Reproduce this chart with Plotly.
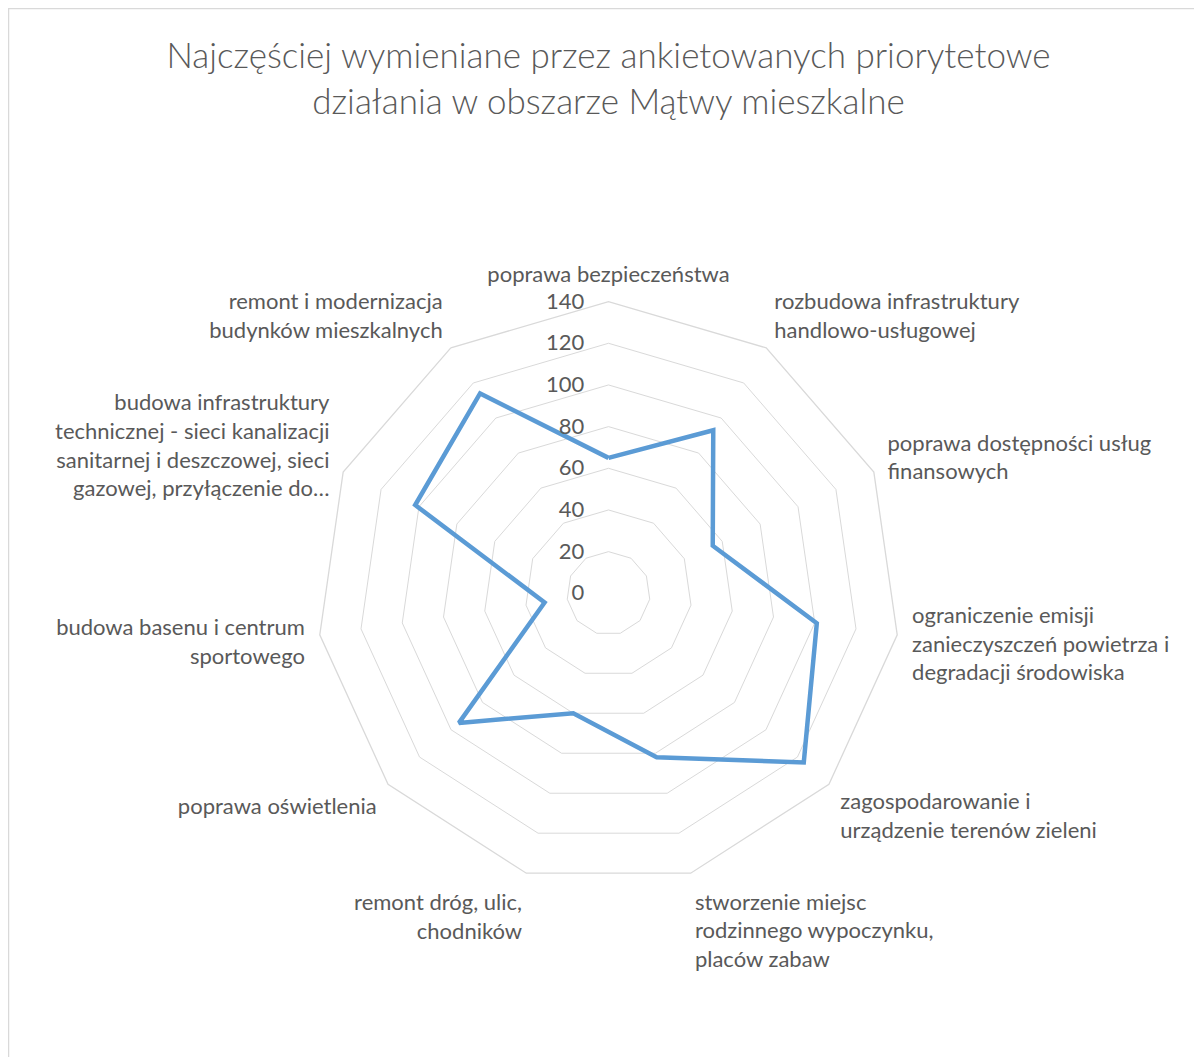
import plotly.graph_objects as go

title_text = "Najczęściej wymieniane przez ankietowanych priorytetowe<br>działania w obszarze Mątwy mieszkalne"

categories = [
    "poprawa bezpieczeństwa",
    "rozbudowa infrastruktury<br>handlowo-usługowej",
    "poprawa dostępności usług<br>finansowych",
    "ograniczenie emisji<br>zanieczyszczeń powietrza i<br>degradacji środowiska",
    "zagospodarowanie i<br>urządzenie terenów zieleni",
    "stworzenie miejsc<br>rodzinnego wypoczynku,<br>placów zabaw",
    "remont dróg, ulic,<br>chodników",
    "poprawa oświetlenia",
    "budowa basenu i centrum<br>sportowego",
    "budowa infrastruktury<br>technicznej - sieci kanalizacji<br>sanitarnej i deszczowej, sieci<br>gazowej, przyłączenie do…",
    "remont i modernizacja<br>budynków mieszkalnych",
]
values = [65, 93, 55, 101, 124, 82, 60, 95, 31, 102, 114]
radial_ticks = [0, 20, 40, 60, 80, 100, 120, 140]

TEXT = "#595959"
GRID = "#D9D9D9"
FONT = "Lato"

fig = go.Figure()
fig.add_trace(go.Scatterpolar(
    r=values + values[:1],
    theta=categories + categories[:1],
    mode="lines",
    line=dict(color="#5B9BD5", width=4.5),
    hoverinfo="skip",
    showlegend=False,
))

W, H = 1202, 1057
cx, cy, R = 600.5, 585.3, 291.7

fig.update_layout(
    width=W, height=H,
    margin=dict(l=0, r=0, t=0, b=0),
    paper_bgcolor="white",
    plot_bgcolor="white",
    font=dict(family=FONT, color=TEXT, size=22),
    title=dict(
        text=title_text,
        x=cx / W, xanchor="center",
        y=1 - 60 / H, yanchor="middle",
        font=dict(family=FONT, size=35, color=TEXT, weight=300),
    ),
    polar=dict(
        domain=dict(x=[(cx - R) / W, (cx + R) / W], y=[(H - cy - R) / H, (H - cy + R) / H]),
        bgcolor="white",
        gridshape="linear",
        radialaxis=dict(
            range=[0, 140],
            tickvals=radial_ticks,
            showline=False,
            showgrid=True,
            gridcolor=GRID,
            gridwidth=1.3,
            ticks="outside",
            ticklen=16,
            tickcolor="rgba(0,0,0,0)",
            angle=90,
            tickangle=90,
            side="counterclockwise",
            tickfont=dict(family=FONT, size=22, color=TEXT),
        ),
        angularaxis=dict(
            direction="clockwise",
            rotation=90,
            showgrid=False,
            showline=True,
            linecolor=GRID,
            linewidth=1.3,
            ticks="outside",
            ticklen=10,
            tickcolor="rgba(0,0,0,0)",
            tickfont=dict(family=FONT, size=22, color=TEXT),
        ),
    ),
    shapes=[dict(
        type="rect", xref="paper", yref="paper",
        x0=0.6 / W, x1=1.05, y0=-0.05, y1=1 - 0.6 / H,
        line=dict(color=GRID, width=1.3), fillcolor="rgba(0,0,0,0)", layer="below",
    )],
)

fig.write_html("out.html")
